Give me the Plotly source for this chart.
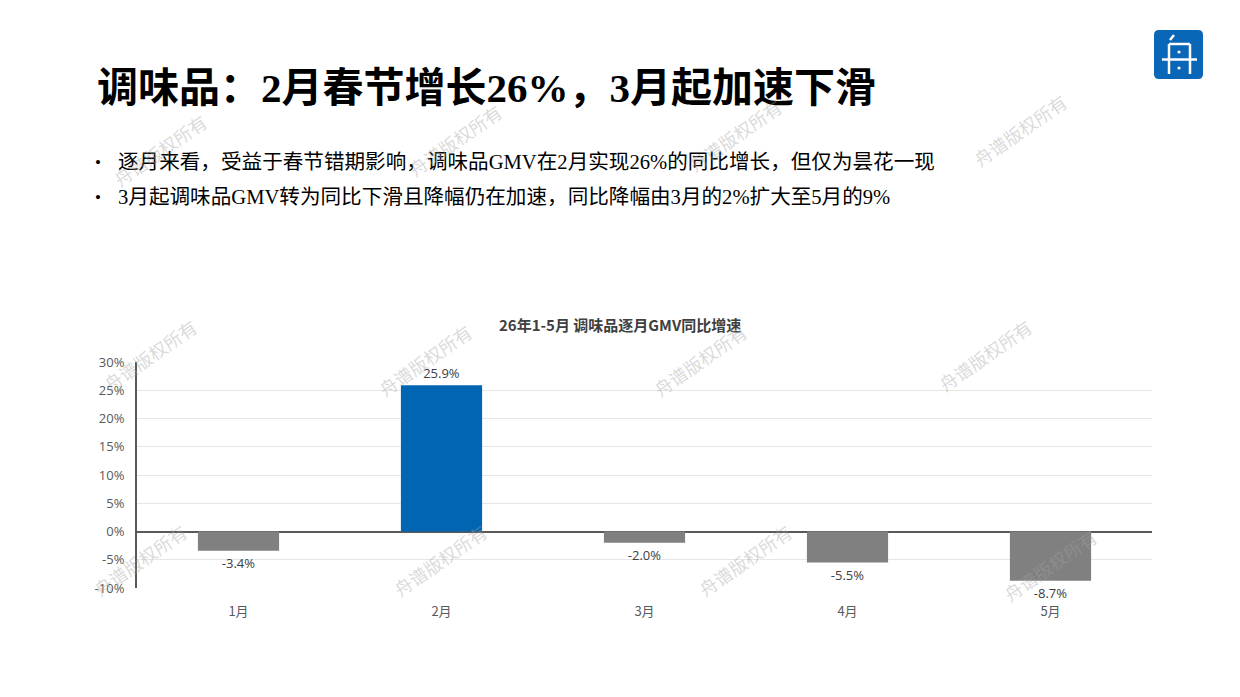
import plotly.graph_objects as go

months = ["1月", "2月", "3月", "4月", "5月"]
yoy = [-3.4, 25.9, -2.0, -5.5, -8.7]
labels = ["-3.4%", "25.9%", "-2.0%", "-5.5%", "-8.7%"]
y_ticks = [-10, -5, 0, 5, 10, 15, 20, 25, 30]
y_tick_text = ["-10%", "-5%", "0%", "5%", "10%", "15%", "20%", "25%", "30%"]

main_title = "调味品：2月春节增长26%，3月起加速下滑"
bullets = [
    "逐月来看，受益于春节错期影响，调味品GMV在2月实现26%的同比增长，但仅为昙花一现",
    "3月起调味品GMV转为同比下滑且降幅仍在加速，同比降幅由3月的2%扩大至5月的9%",
]
chart_title = "26年1-5月 调味品逐月GMV同比增速"
watermark = "舟谱版权所有"

OFF = 8  # page body margin
W, H = 1240 - OFF, 697 - OFF
L, R, T, B = 137, 1152, 362, 588

def px(x):
    return (x - L) / (R - L)

def py(y):
    return (B - y) / (B - T)

colors = ["#0066B3" if v >= 0 else "#808080" for v in yoy]

fig = go.Figure()
fig.add_trace(go.Bar(
    x=months, y=yoy, marker=dict(color=colors, line=dict(width=0)),
    text=labels, textposition="outside", cliponaxis=False,
    textfont=dict(family="Open Sans, Noto Sans CJK SC", size=13, color="#404040"),
    constraintext="none", hoverinfo="skip",
))

ann = []
ann.append(dict(x=px(95), y=py(88), xref="paper", yref="paper", xanchor="left", yanchor="middle",
                text="<b>" + main_title + "</b>", showarrow=False,
                font=dict(family="Liberation Serif, Noto Sans CJK SC", size=41, color="#000000")))
for i, (b, yy) in enumerate(zip(bullets, [162, 197])):
    ann.append(dict(x=px(93), y=py(yy), xref="paper", yref="paper", xanchor="left", yanchor="middle",
                    text="•", showarrow=False,
                    font=dict(family="Liberation Serif", size=17, color="#000000")))
    ann.append(dict(x=px(116), y=py(yy), xref="paper", yref="paper", xanchor="left", yanchor="middle",
                    text=b, showarrow=False,
                    font=dict(family="Liberation Serif, Noto Sans CJK SC", size=20.6, color="#000000")))
ann.append(dict(x=px(620), y=py(324), xref="paper", yref="paper", xanchor="center", yanchor="middle",
                text="<b>" + chart_title + "</b>", showarrow=False,
                font=dict(family="Noto Sans CJK SC", size=15, color="#404040")))

wm_pos = [(160, 150), (455, 140), (735, 135), (1020, 130),
          (150, 355), (425, 360), (700, 360), (985, 355),
          (140, 560), (440, 560), (745, 560), (1050, 565)]
for (x, y) in wm_pos:
    ann.append(dict(x=px(x), y=py(y), xref="paper", yref="paper", xanchor="center", yanchor="middle",
                    text=watermark, showarrow=False, textangle=-35,
                    font=dict(family="Noto Sans CJK SC", size=18, color="rgba(160,160,160,0.4)")))

shapes = []
# logo
x0, y0, x1, y1, r = 1154, 30, 1203, 79, 5
path = (f"M {px(x0+r)},{py(y0)} L {px(x1-r)},{py(y0)} Q {px(x1)},{py(y0)} {px(x1)},{py(y0+r)} "
        f"L {px(x1)},{py(y1-r)} Q {px(x1)},{py(y1)} {px(x1-r)},{py(y1)} "
        f"L {px(x0+r)},{py(y1)} Q {px(x0)},{py(y1)} {px(x0)},{py(y1-r)} "
        f"L {px(x0)},{py(y0+r)} Q {px(x0)},{py(y0)} {px(x0+r)},{py(y0)} Z")
shapes.append(dict(type="path", path=path, xref="paper", yref="paper",
                   fillcolor="#0A66B7", line=dict(width=0)))
white = dict(color="white", width=2.5)
for (ax, ay, bx, by) in [(1170, 40, 1174, 35), (1169, 44, 1169, 74), (1190, 44, 1190, 74),
                         (1169, 44, 1190, 44), (1162, 59.5, 1197, 59.5)]:
    shapes.append(dict(type="line", xref="paper", yref="paper",
                       x0=px(ax), y0=py(ay), x1=px(bx), y1=py(by), line=white))
for (cx, cy) in [(1179, 52), (1179, 68)]:
    shapes.append(dict(type="circle", xref="paper", yref="paper",
                       x0=px(cx - 1.6), y0=py(cy + 1.6), x1=px(cx + 1.6), y1=py(cy - 1.6),
                       fillcolor="white", line=dict(width=0)))

fig.update_layout(
    width=W, height=H,
    margin=dict(l=L - OFF, r=1240 - R, t=T - OFF, b=697 - B),
    paper_bgcolor="white", plot_bgcolor="white",
    showlegend=False, bargap=0.6,
    annotations=ann, shapes=shapes,
    font=dict(family="Open Sans, Noto Sans CJK SC"),
)
fig.update_xaxes(showgrid=False, showline=False, ticks="", ticklabelstandoff=14,
                 tickfont=dict(family="Noto Sans CJK SC, Open Sans", size=13, color="#595959"))
fig.update_yaxes(range=[-10, 30], tickvals=y_ticks, ticktext=y_tick_text,
                 showgrid=True, gridcolor="#E6E6E6", gridwidth=1,
                 zeroline=True, zerolinecolor="#595959", zerolinewidth=2,
                 showline=True, linecolor="#595959", linewidth=2, ticks="",
                 ticklabelstandoff=8,
                 tickfont=dict(family="Open Sans", size=13, color="#595959"))

fig.write_html("out.html")
